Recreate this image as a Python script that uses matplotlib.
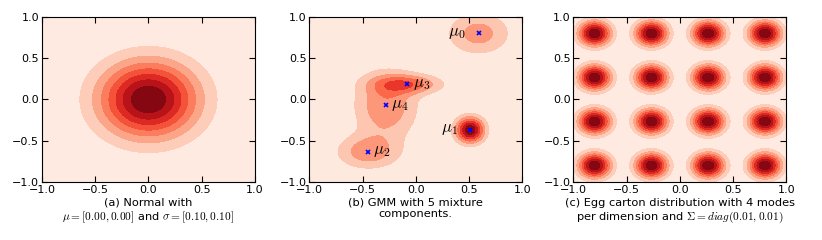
import numpy as np
import matplotlib
matplotlib.use("Agg")
import matplotlib.pyplot as plt

plt.rcParams['font.family'] = ['DejaVu Sans']
plt.rcParams['mathtext.fontset'] = 'cm'
plt.rcParams['font.size'] = 8

# (a) single normal
normal_mean = [0.0, 0.0]
normal_var = [0.10, 0.10]

# (b) GMM with 5 components
gmm_means = [[0.59, 0.80], [0.51, -0.37], [-0.45, -0.635], [-0.08, 0.185], [-0.28, -0.07]]
gmm_covs = [
    [[0.040, 0.0], [0.0, 0.030]],
    [[0.0081, 0.0], [0.0, 0.011]],
    [[0.040, 0.0], [0.0, 0.0196]],
    [[0.0484, 0.0], [0.0, 0.0064]],
    [[0.040, 0.0], [0.0, 0.0784]],
]
gmm_weights = [0.27, 0.2, 0.225, 0.177, 0.51]
gmm_label_gap = [-0.12, -0.11, 0.05, 0.05, 0.05]

# (c) egg carton
egg_modes = [-0.8, -0.2667, 0.2667, 0.8]
egg_var = [0.01, 0.01]

captions = [
    "(a) Normal with\n$\\mu=[0.00, 0.00]$ and $\\sigma=[0.10, 0.10]$",
    "(b) GMM with 5 mixture\ncomponents.",
    "(c) Egg carton distribution with 4 modes\nper dimension and $\\Sigma=diag(0.01, 0.01)$",
]

g = np.linspace(-1, 1, 300)
X, Y = np.meshgrid(g, g)


def gauss(mean, cov):
    cov = np.array(cov)
    inv = np.linalg.inv(cov)
    dx = X - mean[0]
    dy = Y - mean[1]
    q = inv[0, 0] * dx * dx + 2 * inv[0, 1] * dx * dy + inv[1, 1] * dy * dy
    return np.exp(-0.5 * q) / (2 * np.pi * np.sqrt(np.linalg.det(cov)))


Za = gauss(normal_mean, np.diag(normal_var))
Zb = sum(w * gauss(m, c) for w, m, c in zip(gmm_weights, gmm_means, gmm_covs))
Zc = sum(gauss([mx, my], np.diag(egg_var)) for mx in egg_modes for my in egg_modes)

fig = plt.figure(figsize=(8.22, 2.4), dpi=100)
lefts = [0.0511, 0.3763, 0.6975]
axes = [fig.add_axes([l, 0.2417, 0.259, 0.6875]) for l in lefts]

for ax, Z, cap in zip(axes, [Za, Zb, Zc], captions):
    ax.contourf(X, Y, Z, cmap='Reds')
    ax.set_xlim(-1, 1)
    ax.set_ylim(-1, 1)
    ax.set_xticks([-1.0, -0.5, 0.0, 0.5, 1.0])
    ax.set_yticks([-1.0, -0.5, 0.0, 0.5, 1.0])
    ax.tick_params(direction='in', top=True, right=True, length=4, labelsize=8, pad=2)
    ax.set_xlabel(cap, fontsize=8.2, labelpad=2)

ax = axes[1]
for i, (m, gap) in enumerate(zip(gmm_means, gmm_label_gap)):
    ax.plot(m[0], m[1], 'x', color='blue', ms=3.5, mew=1.2)
    ha = 'right' if gap < 0 else 'left'
    ax.text(m[0] + gap, m[1] + 0.02, '$\\mu_%d$' % i, ha=ha, va='center', fontsize=12)

fig.savefig('out.png', dpi=100)
